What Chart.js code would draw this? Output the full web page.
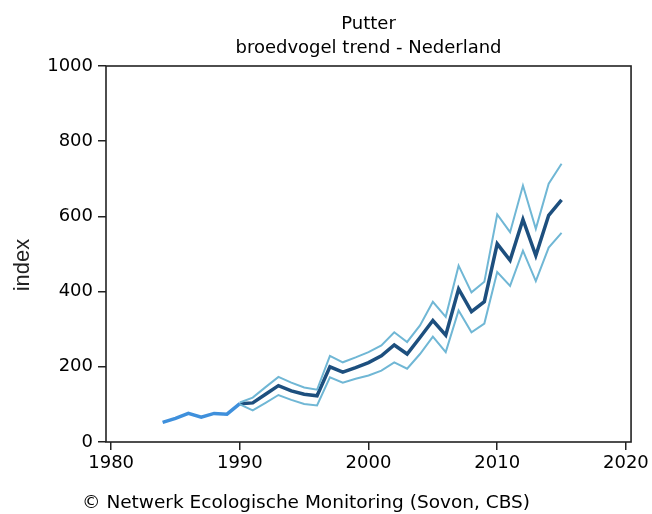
<!DOCTYPE html>
<html>
<head>
<meta charset="utf-8">
<script src="https://cdn.jsdelivr.net/npm/chart.js@4/dist/chart.umd.min.js"></script>
<style>
html,body{margin:0;padding:0;background:#fff;}
#wrap{width:652px;height:514px;position:relative;}
</style>
</head>
<body>
<div id="wrap"><canvas id="c" width="652" height="514"></canvas></div>
<script>
const titleText = "Putter";
const subtitleText = "broedvogel trend - Nederland";
const footerText = "\u00A9 Netwerk Ecologische Monitoring (Sovon, CBS)";
const yTitle = "index";

const years = [1984,1985,1986,1987,1988,1989,1990,1991,1992,1993,1994,1995,1996,1997,1998,1999,2000,2001,2002,2003,2004,2005,2006,2007,2008,2009,2010,2011,2012,2013,2014,2015];
const earlyIndex = [52,63,76,66,76,74,102,null,null,null,null,null,null,null,null,null,null,null,null,null,null,null,null,null,null,null,null,null,null,null,null,null];
const trendIndex = [null,null,null,null,null,null,102,104,127,150,136,127,123,200,186,198,211,229,258,234,278,323,284,407,347,373,527,483,592,496,603,644];
const upperIndex = [null,null,null,null,null,null,105,118,146,173,158,145,139,229,212,225,239,257,292,266,310,373,333,469,398,426,605,558,682,567,687,740];
const lowerIndex = [null,null,null,null,null,null,100,84,104,125,112,101,97,172,158,168,177,190,212,195,234,280,239,350,292,315,452,415,509,428,517,556];
const xTicks = [1980,1990,2000,2010,2020];
const yTicks = [0,200,400,600,800,1000];

const toPts = arr => years.map((y,i)=>({x:y,y:arr[i]})).filter(p=>p.y!==null);

const FONT = "'DejaVu Sans', sans-serif";
const AXIS = "#222";

const frame = {
  id:'frame',
  afterDraw(chart){
    const {ctx, chartArea:a} = chart;
    ctx.save();
    ctx.strokeStyle = AXIS;
    ctx.lineWidth = 1.6;
    ctx.strokeRect(a.left, a.top, a.right-a.left, a.bottom-a.top);
    ctx.fillStyle = "#000";
    ctx.font = "18px " + FONT;
    ctx.textAlign = "center";
    ctx.textBaseline = "middle";
    const cx = (a.left + a.right)/2;
    ctx.fillText(titleText, cx, 24);
    ctx.fillText(subtitleText, cx, 48);
    ctx.textAlign = "left";
    ctx.font = "18.5px " + FONT;
    ctx.fillText(footerText, 82, 503);
    ctx.save();
    ctx.translate(23, 265);
    ctx.rotate(-Math.PI/2);
    ctx.textAlign = "center";
    ctx.font = "22px 'Liberation Sans', sans-serif";
    ctx.fillStyle = "#222";
    ctx.fillText(yTitle, 0, 0);
    ctx.restore();
    ctx.restore();
  }
};

new Chart(document.getElementById('c'), {
  type: 'line',
  data: {
    datasets: [
      {data: toPts(upperIndex), borderColor:'#70b7d5', borderWidth:2, pointRadius:0, fill:false, tension:0},
      {data: toPts(lowerIndex), borderColor:'#70b7d5', borderWidth:2, pointRadius:0, fill:false, tension:0},
      {data: toPts(earlyIndex), borderColor:'#3f90dc', borderWidth:3.5, pointRadius:0, fill:false, tension:0},
      {data: toPts(trendIndex), borderColor:'#1d4f7e', borderWidth:3.5, pointRadius:0, fill:false, tension:0}
    ]
  },
  options: {
    responsive:false,
    animation:false,
    layout:{padding:{left:0,right:20,top:66,bottom:42}},
    plugins:{legend:{display:false}, tooltip:{enabled:false}},
    scales:{
      x:{
        type:'linear', min:1979.6, max:2020.4,
        afterBuildTicks(s){ s.ticks = xTicks.map(v=>({value:v})); },
        afterFit(s){ s.height = 30; },
        grid:{drawOnChartArea:false, color:AXIS, tickLength:8, lineWidth:1.5},
        border:{display:false},
        ticks:{color:'#000', font:{family:FONT, size:18}, padding:3, maxRotation:0, callback:v=>String(v)}
      },
      y:{
        min:0, max:1000,
        afterBuildTicks(s){ s.ticks = yTicks.map(v=>({value:v})); },
        afterFit(s){ s.width = 106; },
        grid:{drawOnChartArea:false, color:AXIS, tickLength:8, lineWidth:1.5},
        border:{display:false},
        ticks:{color:'#000', font:{family:FONT, size:18}, padding:5, callback:v=>String(v)}
      }
    }
  },
  plugins:[frame]
});
</script>
</body>
</html>
